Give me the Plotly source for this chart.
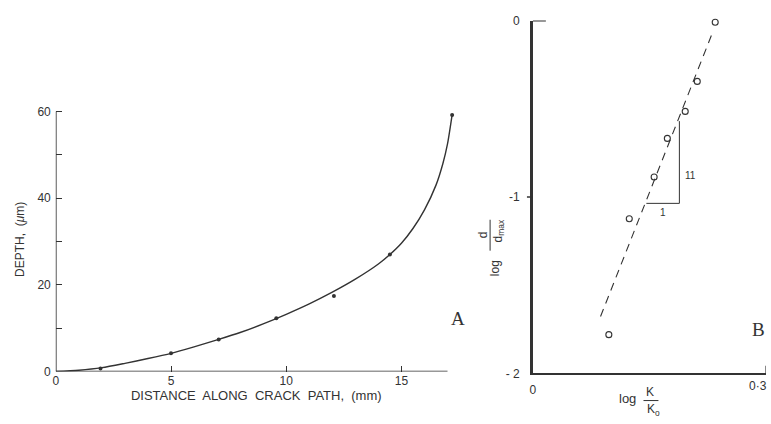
import plotly.graph_objects as go

# ---- Panel A data ----
dist_pts = [1.94, 5.0, 7.07, 9.57, 12.07, 14.5, 17.2]
depth_pts = [0.7, 4.2, 7.4, 12.3, 17.4, 27.0, 59.2]
curve_x = [0, 1, 2, 3, 4, 5, 6, 7, 8, 9, 10, 11, 12, 13, 14, 14.5, 15, 15.5, 16, 16.5, 16.8, 17.0, 17.2]
curve_y = [0, 0.3, 0.9, 1.9, 3.0, 4.2, 5.7, 7.3, 9.0, 11.0, 13.2, 15.6, 18.3, 21.3, 24.8, 27.0,
           29.6, 33.0, 37.3, 43.0, 48.0, 52.5, 59.2]
a_xticks = [0, 5, 10, 15]
a_yticks = [0, 20, 40, 60]

# ---- Panel B data ----
logk = [0.0977, 0.124, 0.156, 0.173, 0.196, 0.2115, 0.2346]
logd = [-1.78, -1.123, -0.887, -0.668, -0.515, -0.345, -0.01]
fit_x = [0.087, 0.231]
fit_y = [-1.677, -0.07]
tri_x = [0.146, 0.1885, 0.1885]
tri_y = [-1.036, -1.036, -0.570]
b_xticks = [0, 0.3]
b_xtext = ["0", "0·3"]
b_yticks = [-2, -1, 0]
b_ytext = ["- 2", "-1", "0"]

W, H = 771, 424
def fx(p): return p / W
def fy(p): return 1 - p / H

INK = "#333333"
FONT = "Liberation Sans"

fig = go.Figure()
fig.add_trace(go.Scatter(x=curve_x, y=curve_y, mode="lines", line=dict(color=INK, width=1.4, shape="spline", smoothing=0.7),
                         xaxis="x", yaxis="y", showlegend=False, hoverinfo="skip"))
fig.add_trace(go.Scatter(x=dist_pts, y=depth_pts, mode="markers", marker=dict(color=INK, size=4),
                         xaxis="x", yaxis="y", showlegend=False, cliponaxis=False))
fig.add_trace(go.Scatter(x=fit_x, y=fit_y, mode="lines", line=dict(color=INK, width=1.1, dash="8px,6px"),
                         xaxis="x2", yaxis="y2", showlegend=False))
fig.add_trace(go.Scatter(x=tri_x, y=tri_y, mode="lines", line=dict(color=INK, width=1.0),
                         xaxis="x2", yaxis="y2", showlegend=False))
fig.add_trace(go.Scatter(x=logk, y=logd, mode="markers",
                         marker=dict(symbol="circle-open", color=INK, size=6, line=dict(width=1.1)),
                         xaxis="x2", yaxis="y2", showlegend=False, cliponaxis=False))

tickfont = dict(family=FONT, size=12, color=INK)
fig.update_layout(
    width=W, height=H, margin=dict(l=0, r=0, t=0, b=0),
    paper_bgcolor="white", plot_bgcolor="white",
    xaxis=dict(domain=[fx(53), fx(455.5)], range=[0, 17.4], tickvals=a_xticks, ticks="inside", ticklen=6,
               tickwidth=1.2, tickcolor=INK, showgrid=False, zeroline=False, showline=False,
               title=dict(text="DISTANCE  ALONG  CRACK  PATH,  (mm)", font=dict(family=FONT, size=13, color=INK), standoff=4),
               tickfont=tickfont, anchor="y"),
    yaxis=dict(domain=[fy(377), fy(103.5)], range=[0, 61], tickvals=a_yticks, ticks="inside",
               ticklen=6, tickwidth=1.2, tickcolor=INK, showgrid=False, zeroline=False, showline=False,
               minor=dict(tickmode="linear", tick0=0, dtick=10, ticks="inside", ticklen=6, tickwidth=1.2,
                          tickcolor=INK, showgrid=False),
               title=dict(text="DEPTH,  (<i>μ</i>m)", font=dict(family=FONT, size=12, color=INK), standoff=10),
               tickfont=tickfont, anchor="x", ticklabelstandoff=4),
    xaxis2=dict(domain=[fx(532), fx(766)], range=[0, 0.3], tickvals=[0], ticktext=["0"], ticks="",
                showgrid=False, zeroline=False, showline=True, linecolor=INK, linewidth=2,
                tickfont=tickfont, anchor="y2", ticklabelstandoff=4),
    yaxis2=dict(domain=[fy(379), fy(14)], range=[-2, 0], tickvals=b_yticks, ticktext=b_ytext, ticks="",
                showgrid=False, zeroline=False, showline=True, linecolor=INK, linewidth=2.5,
                tickfont=tickfont, anchor="x2", ticklabelstandoff=8),
)

shapes = [
    dict(type="line", xref="x", yref="y", x0=0, x1=0, y0=0, y1=60, line=dict(color=INK, width=1.6)),
    dict(type="line", xref="x", yref="y", x0=0, x1=17, y0=0, y1=0, line=dict(color=INK, width=1.6)),
    dict(type="line", xref="paper", yref="y2", x0=fx(532), x1=fx(545), y0=0, y1=0, line=dict(color=INK, width=2)),
    dict(type="line", xref="paper", yref="y2", x0=fx(526), x1=fx(532), y0=-1, y1=-1, line=dict(color=INK, width=1.5)),
    dict(type="line", xref="x2", yref="paper", x0=0.3, x1=0.3, y0=fy(379), y1=fy(371), line=dict(color=INK, width=1.2)),
    # fraction bars
    dict(type="line", xref="paper", yref="paper", x0=fx(643), x1=fx(658), y0=fy(407), y1=fy(407), line=dict(color=INK, width=1)),
    dict(type="line", xref="paper", yref="paper", x0=fx(489), x1=fx(489), y0=fy(220), y1=fy(252), line=dict(color=INK, width=1)),
]
fig.update_layout(shapes=shapes)

def ann(text, x, y, size=12, angle=0, family=FONT, xref="paper", yref="paper", xanchor="center"):
    return dict(text=text, x=x, y=y, xref=xref, yref=yref, showarrow=False, textangle=angle,
                font=dict(family=family, size=size, color=INK), xanchor=xanchor, yanchor="middle")

annotations = [
    ann("A", fx(457), fy(322), size=19, family="Liberation Serif"),
    ann("B", fx(758), fy(333), size=19, family="Liberation Serif"),
    ann("1", 0.168, -1.085, size=10, xref="x2", yref="y2"),
    ann("11", 0.203, -0.88, size=10, xref="x2", yref="y2"),
    ann(b_xtext[1], fx(769), fy(392), size=12, xanchor="right"),
    ann("log", fx(627), fy(405), size=13),
    ann("K", fx(650), fy(398), size=12),
    ann("K<sub>o</sub>", fx(653), fy(417), size=12),
    ann("log", fx(494), fy(270), size=12, angle=-90),
    ann("d", fx(482), fy(236), size=12, angle=-90),
    ann("d<sub>max</sub>", fx(498), fy(232), size=12, angle=-90),
]
fig.update_layout(annotations=annotations)

fig.write_html("out.html")
